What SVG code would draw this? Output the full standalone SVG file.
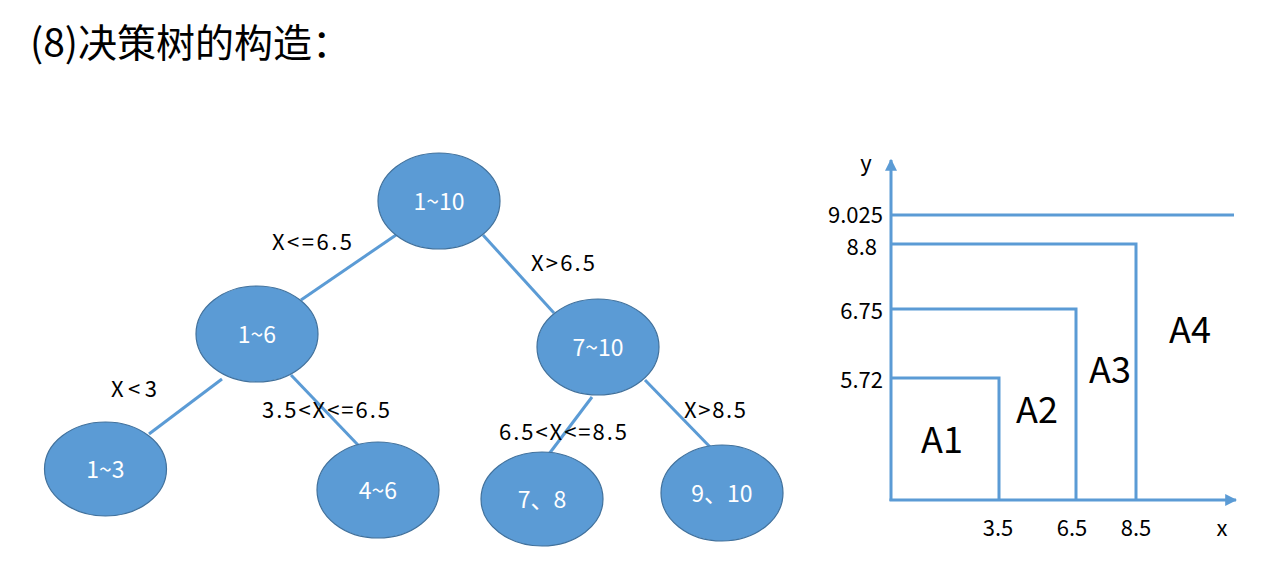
<svg xmlns="http://www.w3.org/2000/svg" width="1285" height="564" viewBox="0 0 1285 564">
<defs>
<style>
text{font-family:"Noto Sans CJK SC","Open Sans","Liberation Sans",sans-serif;fill:#000}
.node ellipse{fill:#5b9bd5;stroke:#41719c;stroke-width:1.2}
.node text{fill:#fff;font-size:23px;text-anchor:middle}
.edge line{stroke:#5b9bd5;stroke-width:3}
.lbl{font-size:22px}
.ax{stroke:#5b9bd5;stroke-width:3;fill:none}
.tick{font-size:22px}
.area{font-size:36px;text-anchor:middle}
</style>
<marker id="arr" viewBox="0 0 10 10" refX="9" refY="5" markerWidth="4" markerHeight="4" orient="auto" markerUnits="strokeWidth">
<path d="M0,0 L10,5 L0,10 Z" fill="#5b9bd5"/>
</marker>
</defs>
<rect width="1285" height="564" fill="#fff"/>
<text x="30" y="57" font-size="39">(8)决策树的构造：</text>
<g id="connectors" class="edge">
<line x1="396" y1="235" x2="301" y2="300"/>
<line x1="483" y1="235" x2="554" y2="313"/>
<line x1="222" y1="379" x2="149" y2="434"/>
<line x1="291" y1="375" x2="358" y2="445"/>
<line x1="592" y1="397" x2="549" y2="454"/>
<line x1="645" y1="380" x2="712" y2="449"/>
</g>
<g id="edge-labels">
<text class="lbl" x="272" y="250" textLength="80" lengthAdjust="spacing">X&lt;=6.5</text>
<text class="lbl" x="531" y="271" textLength="64" lengthAdjust="spacing">X&gt;6.5</text>
<text class="lbl" x="111" y="397" textLength="46" lengthAdjust="spacing">X&lt;3</text>
<text class="lbl" x="262" y="418" textLength="128" lengthAdjust="spacing">3.5&lt;X&lt;=6.5</text>
<text class="lbl" x="499" y="440" textLength="128" lengthAdjust="spacing">6.5&lt;X&lt;=8.5</text>
<text class="lbl" x="684" y="418" textLength="62" lengthAdjust="spacing">X&gt;8.5</text>
</g>
<g id="n1" class="node"><ellipse cx="439" cy="201" rx="61" ry="48"/><text x="439" y="210">1~10</text></g>
<g id="n2" class="node"><ellipse cx="257" cy="334" rx="61" ry="48"/><text x="257" y="343">1~6</text></g>
<g id="n3" class="node"><ellipse cx="598" cy="347" rx="61" ry="48"/><text x="598" y="356">7~10</text></g>
<g id="n4" class="node"><ellipse cx="105.5" cy="469" rx="61" ry="47"/><text x="105.5" y="478">1~3</text></g>
<g id="n5" class="node"><ellipse cx="378" cy="490" rx="61" ry="48"/><text x="378" y="499">4~6</text></g>
<g id="n6" class="node"><ellipse cx="542" cy="499" rx="61" ry="47"/><text x="542" y="508">7、8</text></g>
<g id="n7" class="node"><ellipse cx="722" cy="493" rx="61" ry="48"/><text x="722" y="502">9、10</text></g>
<g id="chart">
<line class="ax" x1="891" y1="501" x2="891" y2="160" marker-end="url(#arr)"/>
<line class="ax" x1="889.5" y1="500" x2="1236" y2="500" marker-end="url(#arr)"/>
<line class="ax" x1="891" y1="215" x2="1234" y2="215"/>
<polyline class="ax" points="891,244 1136,244 1136,500"/>
<polyline class="ax" points="891,309 1076,309 1076,500"/>
<polyline class="ax" points="891,378 999,378 999,500"/>
<text class="tick" x="866" y="171" text-anchor="middle">y</text>
<text class="tick" x="1222" y="536" text-anchor="middle">x</text>
<text class="tick" x="883" y="223" text-anchor="end">9.025</text>
<text class="tick" x="877" y="255" text-anchor="end">8.8</text>
<text class="tick" x="883" y="319" text-anchor="end">6.75</text>
<text class="tick" x="883" y="388" text-anchor="end">5.72</text>
<text class="tick" x="998" y="536" text-anchor="middle">3.5</text>
<text class="tick" x="1072" y="536" text-anchor="middle">6.5</text>
<text class="tick" x="1136" y="536" text-anchor="middle">8.5</text>
<text class="area" x="942" y="453">A1</text>
<text class="area" x="1037" y="423">A2</text>
<text class="area" x="1110" y="383">A3</text>
<text class="area" x="1190" y="343">A4</text>
</g>
</svg>
